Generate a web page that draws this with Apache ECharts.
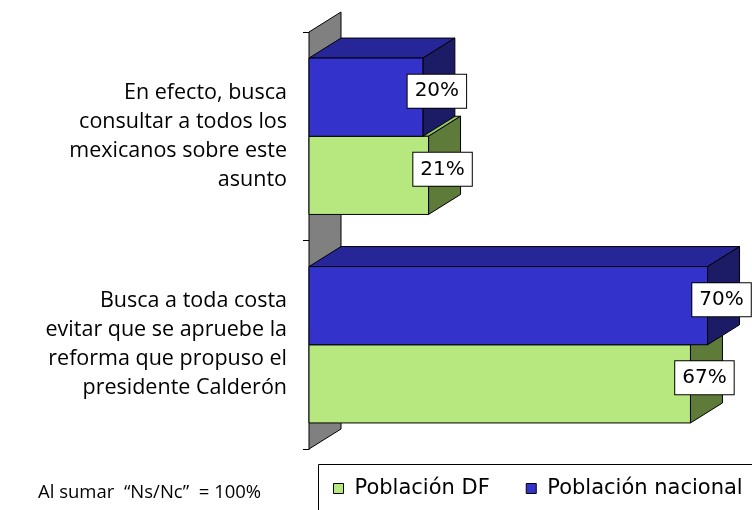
<!DOCTYPE html>
<html>
<head>
<meta charset="utf-8">
<script src="https://cdn.jsdelivr.net/npm/echarts@6/dist/echarts.min.js"></script>
<style>
  html, body { margin: 0; padding: 0; background: #fff; }
  #chart { width: 752px; height: 510px; }
</style>
</head>
<body>
<div id="chart"></div>
<script>
// datos
const categories = [
  'En efecto, busca\nconsultar a todos los\nmexicanos sobre este\nasunto',
  'Busca a toda costa\nevitar que se apruebe la\nreforma que propuso el\npresidente Calderón'
]
const seriesNames = ['Población DF', 'Población nacional']
const dfValues = [21, 67]
const nacionalValues = [20, 70]
const footnote = 'Al sumar  “Ns/Nc”  = 100%'

// profundidad del efecto 3D
const DX = 32
const DY = -20

const greenFaces = { front: '#b7e87f', top: '#93c060', side: '#5e7b3a' }
const blueFaces = { front: '#3333cc', top: '#262699', side: '#1c1c66' }

const edge = { stroke: '#000', lineWidth: 1, lineJoin: 'round' }

// slot 0 = barra de arriba, slot 1 = barra de abajo dentro de la categoría
function bar3d (faces, slot) {
  return function (params, api) {
    const cat = api.value(0)
    const val = api.value(1)
    const start = api.coord([0, cat])
    const end = api.coord([val, cat])
    const h = api.size([0, 1])[1] * 0.375
    const x0 = start[0]
    const x1 = end[0]
    const y0 = slot === 0 ? start[1] - h : start[1]
    const y1 = y0 + h
    return {
      type: 'group',
      children: [
        {
          type: 'polygon',
          shape: { points: [[x0, y0], [x0 + DX, y0 + DY], [x1 + DX, y0 + DY], [x1, y0]] },
          style: Object.assign({ fill: faces.top }, edge)
        },
        {
          type: 'polygon',
          shape: { points: [[x1, y0], [x1 + DX, y0 + DY], [x1 + DX, y1 + DY], [x1, y1]] },
          style: Object.assign({ fill: faces.side }, edge)
        },
        {
          type: 'rect',
          shape: { x: x0, y: y0, width: x1 - x0, height: h },
          style: Object.assign({ fill: faces.front }, edge)
        },
        {
          type: 'text',
          z2: 10,
          style: {
            text: val + '%',
            x: x1 + 14,
            y: y0 + h / 2 - 6,
            align: 'center',
            verticalAlign: 'middle',
            font: '20px "DejaVu Sans"',
            fill: '#000',
            backgroundColor: '#fff',
            borderColor: '#000',
            borderWidth: 1,
            padding: [7, 7, 6, 7]
          }
        }
      ]
    }
  }
}

const chart = echarts.init(document.getElementById('chart'))

const option = {
  animation: false,
  backgroundColor: '#fff',
  grid: { left: 309, right: 16, top: 32, bottom: 61 },
  xAxis: {
    type: 'value',
    min: 0,
    max: 75,
    show: false
  },
  yAxis: {
    type: 'category',
    data: categories,
    inverse: true,
    axisLine: { show: true, lineStyle: { color: '#000', width: 1 } },
    axisTick: { show: true, length: 6, lineStyle: { color: '#000' } },
    axisLabel: {
      margin: 22,
      color: '#000',
      fontFamily: '"Open Sans"',
      fontSize: 21.5,
      lineHeight: 29,
      align: 'right'
    }
  },
  legend: {
    data: seriesNames,
    left: 318,
    top: 464,
    width: 480,
    icon: 'rect',
    itemWidth: 10,
    itemHeight: 10,
    itemGap: 36,
    padding: [14, 0, 10, 15],
    itemStyle: { borderColor: '#000', borderWidth: 1 },
    textStyle: {
      fontFamily: '"DejaVu Sans"',
      fontSize: 21,
      color: '#000',
      padding: [0, 0, 0, 6]
    }
  },
  graphic: [
    {
      // marco de la leyenda, se sale por la derecha y por abajo
      type: 'rect',
      z: -1,
      shape: { x: 318.5, y: 464.5, width: 480, height: 80 },
      style: { fill: '#fff', stroke: '#000', lineWidth: 1 }
    },
    {
      type: 'text',
      left: 38,
      top: 483,
      style: { text: footnote, font: '18.5px "Open Sans"', fill: '#000' }
    }
  ],
  series: [
    {
      // pared del fondo
      type: 'custom',
      silent: true,
      data: [[0, 0]],
      renderItem: function (params) {
        const cs = params.coordSys
        const top = cs.y
        const bottom = cs.y + cs.height
        return {
          type: 'polygon',
          shape: { points: [[cs.x, top], [cs.x + DX, top + DY], [cs.x + DX, bottom + DY], [cs.x, bottom]] },
          style: Object.assign({ fill: '#808080' }, edge)
        }
      }
    },
    {
      name: seriesNames[0],
      type: 'custom',
      itemStyle: { color: greenFaces.front, borderColor: '#000', borderWidth: 1 },
      encode: { x: 1, y: 0 },
      data: dfValues.map((v, i) => [i, v]),
      renderItem: bar3d(greenFaces, 1)
    },
    {
      name: seriesNames[1],
      type: 'custom',
      itemStyle: { color: blueFaces.front, borderColor: '#000', borderWidth: 1 },
      encode: { x: 1, y: 0 },
      data: nacionalValues.map((v, i) => [i, v]),
      renderItem: bar3d(blueFaces, 0)
    }
  ]
}

chart.setOption(option)
</script>
</body>
</html>
